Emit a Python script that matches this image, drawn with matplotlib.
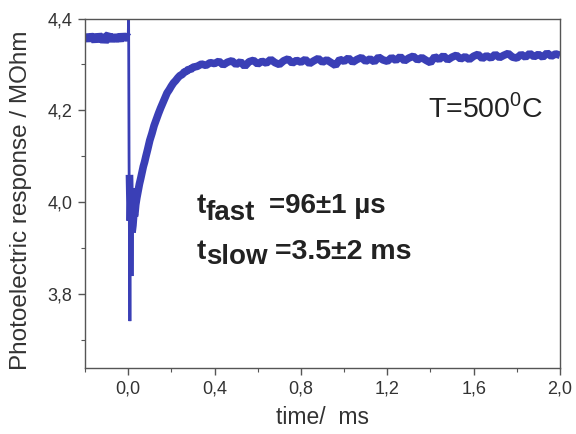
import matplotlib
matplotlib.use("Agg")
import matplotlib.pyplot as plt
from matplotlib.ticker import MultipleLocator, FuncFormatter

plt.rcParams["font.family"] = ["Liberation Sans", "DejaVu Sans"]
plt.rcParams["mathtext.fontset"] = "custom"
plt.rcParams["mathtext.rm"] = "Liberation Sans"
plt.rcParams["mathtext.bf"] = "Liberation Sans:bold"

# Photoresponse trace: time in ms, resistance in MOhm
# dark baseline before the light pulse
t_pre = [-0.20, -0.19, -0.18, -0.17, -0.16, -0.15, -0.14, -0.13, -0.12, -0.11,
         -0.10, -0.09, -0.08, -0.07, -0.06, -0.05, -0.04, -0.03, -0.02, -0.01, 0.0]
v_pre = [4.362, 4.352, 4.364, 4.356, 4.361, 4.350, 4.365, 4.355, 4.363, 4.349,
         4.360, 4.364, 4.351, 4.363, 4.354, 4.361, 4.352, 4.365, 4.355, 4.362, 4.358]

# sharp spike at the pulse
t_spike = [0.000, 0.002, 0.004, 0.006, 0.008, 0.010, 0.012, 0.014, 0.016, 0.018, 0.020]
v_spike = [4.358, 4.402, 4.100, 3.900, 3.742, 3.930, 4.050, 3.900, 3.990, 3.840, 3.960]

# fast recovery
t_rec = [0.006, 0.010, 0.014, 0.018, 0.022, 0.026, 0.030, 0.035, 0.040, 0.046,
         0.052, 0.058, 0.064, 0.070, 0.076, 0.082, 0.090, 0.100, 0.110, 0.120,
         0.130, 0.140, 0.150, 0.160, 0.170, 0.180, 0.190, 0.200, 0.210, 0.220,
         0.230, 0.240, 0.250, 0.260, 0.270, 0.280, 0.290, 0.300, 0.320, 0.340,
         0.360, 0.380, 0.400]
v_rec = [4.060, 3.960, 4.030, 3.935, 3.950, 3.975, 3.970, 3.995, 4.010, 4.025,
         4.040, 4.052, 4.065, 4.078, 4.088, 4.100, 4.115, 4.135, 4.150, 4.167,
         4.180, 4.193, 4.205, 4.216, 4.227, 4.238, 4.245, 4.253, 4.260, 4.265,
         4.271, 4.276, 4.278, 4.284, 4.285, 4.290, 4.289, 4.294, 4.296, 4.301,
         4.298, 4.304, 4.302]

# slow tail
t_slow = [0.42, 0.44, 0.46, 0.48, 0.50, 0.52, 0.54, 0.56, 0.58,
          0.60, 0.62, 0.64, 0.66, 0.68, 0.70, 0.72, 0.74, 0.76, 0.78,
          0.80, 0.82, 0.84, 0.86, 0.88, 0.90, 0.92, 0.94, 0.96, 0.98,
          1.00, 1.02, 1.04, 1.06, 1.08, 1.10, 1.12, 1.14, 1.16, 1.18,
          1.20, 1.22, 1.24, 1.26, 1.28, 1.30, 1.32, 1.34, 1.36, 1.38,
          1.40, 1.42, 1.44, 1.46, 1.48, 1.50, 1.52, 1.54, 1.56, 1.58,
          1.60, 1.62, 1.64, 1.66, 1.68, 1.70, 1.72, 1.74, 1.76, 1.78,
          1.80, 1.82, 1.84, 1.86, 1.88, 1.90, 1.92, 1.94, 1.96, 1.98, 2.00]
v_slow = [4.307, 4.299, 4.305, 4.308, 4.300, 4.306, 4.296, 4.306, 4.309,
          4.301, 4.307, 4.303, 4.311, 4.304, 4.300, 4.308, 4.312, 4.303, 4.309,
          4.305, 4.311, 4.302, 4.308, 4.313, 4.305, 4.310, 4.304, 4.298, 4.311,
          4.307, 4.314, 4.305, 4.311, 4.315, 4.307, 4.312, 4.306, 4.316, 4.310,
          4.307, 4.315, 4.309, 4.317, 4.308, 4.314, 4.318, 4.310, 4.315, 4.309,
          4.304, 4.317, 4.311, 4.319, 4.310, 4.316, 4.320, 4.312, 4.317, 4.311,
          4.318, 4.322, 4.313, 4.319, 4.314, 4.322, 4.315, 4.320, 4.324, 4.316,
          4.314, 4.322, 4.316, 4.324, 4.317, 4.322, 4.316, 4.325, 4.318, 4.323, 4.320]

x_ticks = [0.0, 0.4, 0.8, 1.2, 1.6, 2.0]
y_ticks = [3.8, 4.0, 4.2, 4.4]

W, H = 576, 434
fig = plt.figure(figsize=(W / 100, H / 100), dpi=100)
ax = fig.add_axes([85 / W, 1 - 368 / H, 475 / W, 349.5 / H])

blue = "#3a3fb6"
ax.plot(t_pre, v_pre, color=blue, lw=6.5, solid_joinstyle="bevel", solid_capstyle="butt")
ax.plot(t_spike, v_spike, color=blue, lw=2.0, solid_joinstyle="miter")
ax.plot(t_rec + t_slow, v_rec + v_slow, color=blue, lw=5.5,
        solid_joinstyle="bevel", solid_capstyle="butt")

ax.set_xlim(-0.2, 2.0)
ax.set_ylim(3.64, 4.4)
ax.set_xticks(x_ticks)
ax.set_yticks(y_ticks)
ax.xaxis.set_minor_locator(MultipleLocator(0.2))
ax.yaxis.set_minor_locator(MultipleLocator(0.1))
comma = FuncFormatter(lambda v, p: f"{v:.1f}".replace(".", ","))
ax.xaxis.set_major_formatter(comma)
ax.yaxis.set_major_formatter(comma)

for s in ax.spines.values():
    s.set_color("#555555")
    s.set_linewidth(1.0)
ax.tick_params(which="both", direction="out", colors="#555555", labelcolor="#333333",
               top=False, right=False)
ax.tick_params(which="major", length=5, width=1.0, labelsize=13, pad=4)
ax.tick_params(which="minor", length=3, width=0.8)

ax.set_xlabel("time/  ms", fontsize=16.5, color="#333333", labelpad=6)
ax.set_ylabel("Photoelectric response / MOhm", fontsize=17.5, color="#333333")
ax.yaxis.set_label_coords(-0.112, 0.479)


def px(x, y):
    return x / W, 1 - y / H


fig.text(*px(428, 117), r"T=500$^{\mathrm{0}}$C", fontsize=20.5, color="#222222",
         ha="left", va="baseline")

bold = dict(fontweight="bold", color="#222222", ha="left", va="baseline")
fig.text(*px(197, 213), "t", fontsize=20, **bold)
fig.text(*px(206, 220), "fast", fontsize=20, **bold)
fig.text(*px(269, 213), "=96\u00b11 \u00b5s", fontsize=20, **bold)
fig.text(*px(197, 259), "t", fontsize=20, **bold)
fig.text(*px(206, 264), "slow", fontsize=20, **bold)
fig.text(*px(275, 259), "=3.5\u00b12 ms", fontsize=20.5, **bold)

fig.savefig("out.png", dpi=100)
